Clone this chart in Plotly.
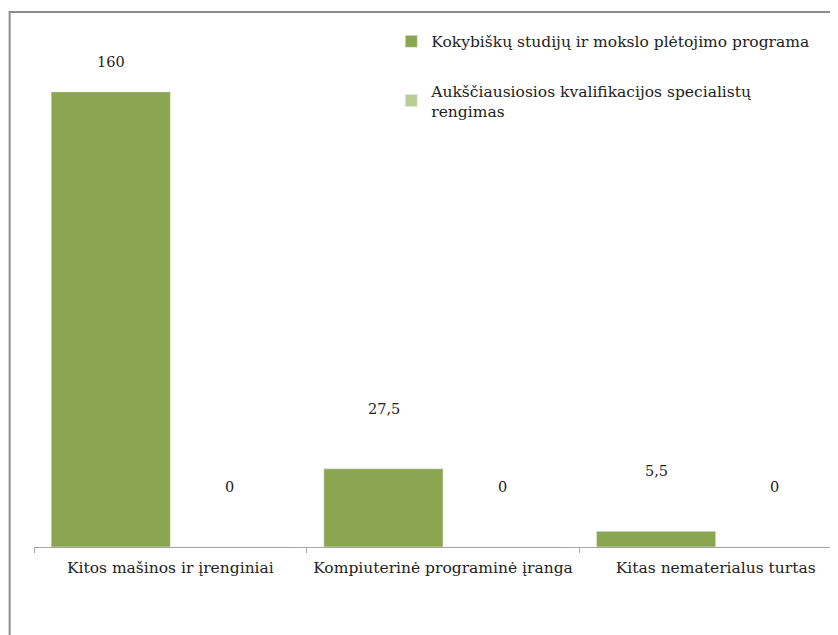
import plotly.graph_objects as go

categories = ["Kitos mašinos ir įrenginiai", "Kompiuterinė programinė įranga", "Kitas nematerialus turtas"]
series_names = ["Kokybiškų studijų ir mokslo plėtojimo programa",
                "Aukščiausiosios kvalifikacijos specialistų<br>rengimas"]
kokybisku = [160, 27.5, 5.5]
auksciausiosios = [0, 0, 0]
labels_1 = ["160", "27,5", "5,5"]
labels_2 = ["0", "0", "0"]

FONT = "DejaVu Serif"
COLORS = ["#8BA650", "#B9CD96"]

fig = go.Figure()
for i, (name, vals) in enumerate(zip(series_names, [kokybisku, auksciausiosios])):
    fig.add_trace(go.Bar(x=categories, y=vals, name=name, marker_color=COLORS[i],
                         legendgroup=str(i), hoverinfo="skip"))

# data labels, Excel style (sit well above the bar top)
for vals, labs, xs in [(kokybisku, labels_1, -59), (auksciausiosios, labels_2, 59)]:
    for c, v, t in zip(categories, vals, labs):
        shift = 30 if v > 150 else 60
        fig.add_annotation(x=c, y=v, text=t, showarrow=False, xshift=xs, yshift=shift,
                           font=dict(family=FONT, size=14.5, color="#222"))

# outer chart frame (only left and top edges visible)
fig.add_shape(type="rect", xref="paper", yref="paper", x0=-0.03, x1=1.2, y0=-0.4, y1=1.045,
              line=dict(color="#8C8C8C", width=2), fillcolor="rgba(0,0,0,0)")

fig.update_layout(
    width=838, height=635,
    margin=dict(l=26, r=0, t=27, b=96),
    plot_bgcolor="white", paper_bgcolor="white",
    barmode="group", bargap=0.126, bargroupgap=0,
    font=dict(family=FONT, size=14, color="#222"),
    showlegend=True,
    legend=dict(x=0.44, y=1.02, xanchor="left", yanchor="top", traceorder="grouped",
                tracegroupgap=26, font=dict(family=FONT, size=15.5, color="#222"),
                itemwidth=30, bgcolor="rgba(0,0,0,0)"),
    xaxis=dict(range=[-0.5, 2.478], showline=True, linecolor="#A6A6A6", linewidth=1,
               ticks="outside", tickson="boundaries", ticklen=5, tickcolor="#A6A6A6",
               tickangle=0, showgrid=False, ticklabelstandoff=6,
               tickfont=dict(family=FONT, size=15.5)),
    yaxis=dict(range=[0, 180], visible=False, showgrid=False),
)

fig.write_html("out.html")
